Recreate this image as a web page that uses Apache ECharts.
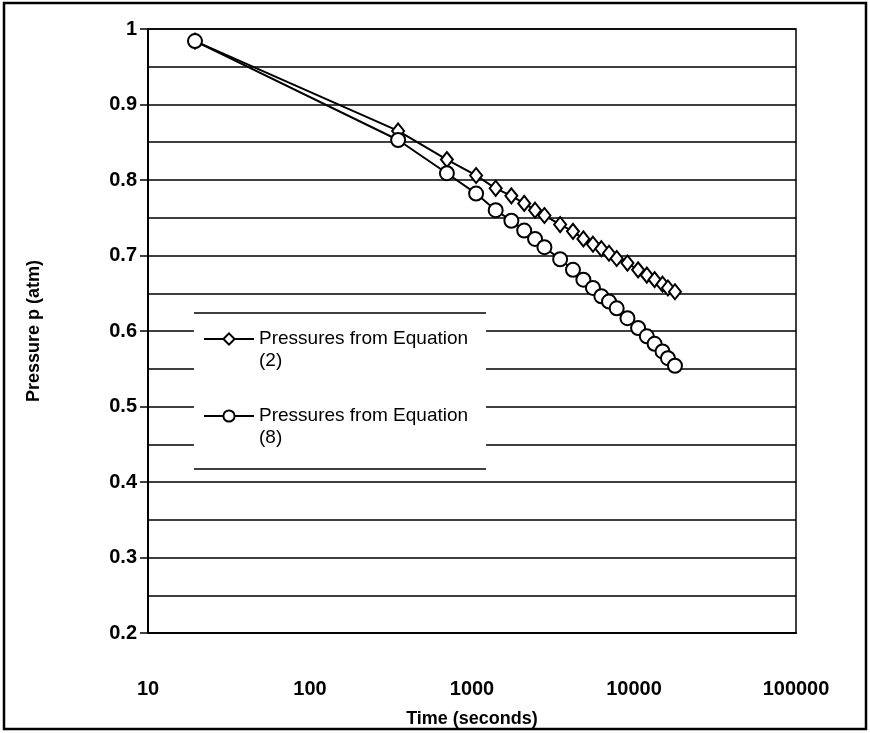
<!DOCTYPE html>
<html>
<head>
    <meta charset="utf-8">
    <title>Pressure vs time</title>
    <script src="https://cdn.jsdelivr.net/npm/echarts@6/dist/echarts.min.js"></script>
    <style>
        html, body { margin: 0; padding: 0; background: #fff; }
    </style>
</head>
<body>
    <div id="main" style="width: 870px;height:733px;"></div>
    <script type="text/javascript">
        // times (s), shared by both series
        var times = [19.5, 350, 700, 1060, 1400, 1750, 2100, 2450, 2800, 3500, 4200, 4870,
            5580, 6290, 7010, 7820, 9110, 10600, 12000, 13400, 15000, 16200, 17900];
        // Pressures from Equation (2)
        var eq2 = [0.984, 0.865, 0.827, 0.806, 0.789, 0.779, 0.769, 0.760, 0.753, 0.741, 0.732, 0.722,
            0.715, 0.709, 0.703, 0.696, 0.690, 0.681, 0.674, 0.668, 0.662, 0.657, 0.652];
        // Pressures from Equation (8)
        var eq8 = [0.984, 0.853, 0.809, 0.782, 0.760, 0.746, 0.733, 0.722, 0.711, 0.695, 0.681, 0.668,
            0.657, 0.646, 0.639, 0.630, 0.617, 0.604, 0.593, 0.583, 0.573, 0.564, 0.554];
        var seriesNames = ['Pressures from Equation\n(2)', 'Pressures from Equation\n(8)'];
        var xTicks = [10, 100, 1000, 10000, 100000];

        function pairs(ys) {
            return times.map(function (t, i) { return [t, ys[i]]; });
        }

        var myChart = echarts.init(document.getElementById('main'));

        var lineStyle = { color: '#000', width: 2 };
        var markStyle = { color: '#fff', borderColor: '#000', borderWidth: 2 };

        var option = {
            animation: false,
            backgroundColor: '#fff',
            textStyle: { fontFamily: 'Liberation Sans, Arial, sans-serif', color: '#000' },
            grid: { left: 148, right: 74, top: 29, bottom: 100, show: true, borderColor: '#000', borderWidth: 1.5 },
            legend: {
                left: 203, top: 306, padding: 0,
                orient: 'vertical',
                itemWidth: 50, itemHeight: 14, itemGap: 11,
                data: seriesNames,
                // blank first line keeps the marker level with the first text line
                formatter: function (name) { return ' \n' + name; },
                textStyle: { fontSize: 19, color: '#000', lineHeight: 22 }
            },
            xAxis: {
                type: 'log', logBase: 10, min: 10, max: 100000,
                name: 'Time (seconds)', nameLocation: 'middle', nameGap: 77,
                nameTextStyle: { fontSize: 18, fontWeight: 'bold', color: '#000' },
                axisLine: { lineStyle: { color: '#000', width: 2 } },
                axisTick: { show: false },
                axisLabel: {
                    fontSize: 20, fontWeight: 'bold', color: '#000', margin: 46,
                    customValues: xTicks,
                    formatter: function (v) { return String(v); }
                },
                splitLine: { show: false }
            },
            yAxis: {
                type: 'value', min: 0.2, max: 1, interval: 0.1,
                name: 'Pressure p (atm)', nameLocation: 'middle', nameGap: 105,
                nameTextStyle: { fontSize: 18, fontWeight: 'bold', color: '#000' },
                axisLine: { show: true, lineStyle: { color: '#000', width: 2 } },
                axisTick: { show: true, length: 8, lineStyle: { color: '#000', width: 1.5 } },
                axisLabel: { fontSize: 20, fontWeight: 'bold', color: '#000', margin: 11 },
                splitLine: { show: true, lineStyle: { color: '#000', width: 1.5 } },
                minorTick: { show: false, splitNumber: 2 },
                minorSplitLine: { show: true, lineStyle: { color: '#000', width: 1.5 } }
            },
            graphic: [
                { type: 'rect', silent: true, z: 1, shape: { x: 194, y: 313, width: 292, height: 156 },
                  style: { fill: '#fff', stroke: null } },
                { type: 'line', silent: true, z: 2, shape: { x1: 194, y1: 313, x2: 486, y2: 313 },
                  style: { stroke: '#000', lineWidth: 1.5 } },
                { type: 'line', silent: true, z: 2, shape: { x1: 194, y1: 469, x2: 486, y2: 469 },
                  style: { stroke: '#000', lineWidth: 1.5 } },
                { type: 'rect', silent: true, z: 2, shape: { x: 4, y: 3, width: 862, height: 726 },
                  style: { fill: null, stroke: '#000', lineWidth: 2.5 } }
            ],
            series: [{
                name: seriesNames[0],
                type: 'line',
                data: pairs(eq2),
                symbol: 'diamond', symbolSize: [12, 15],
                lineStyle: lineStyle, itemStyle: markStyle, z: 3
            }, {
                name: seriesNames[1],
                type: 'line',
                data: pairs(eq8),
                symbol: 'circle', symbolSize: 14,
                lineStyle: lineStyle, itemStyle: markStyle, z: 4
            }]
        };

        myChart.setOption(option);
    </script>
</body>
</html>
